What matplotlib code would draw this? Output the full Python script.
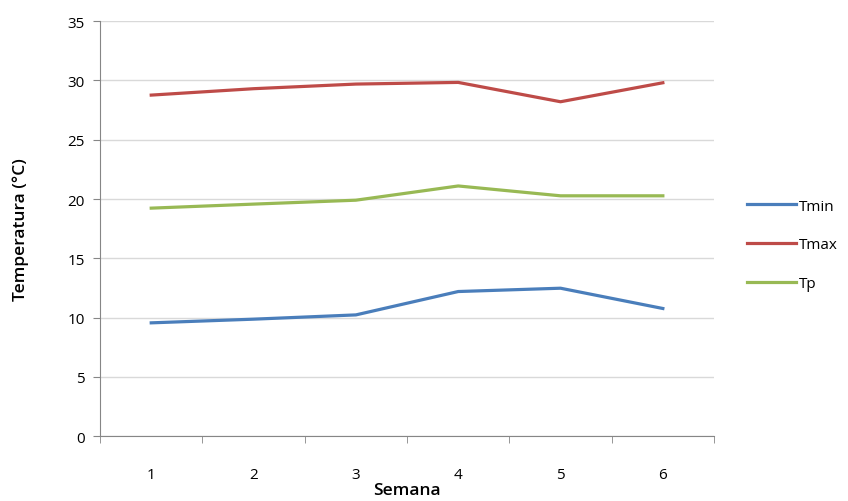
import numpy as np
from matplotlib import pyplot as plt

semanas = [1, 2, 3, 4, 5, 6]
tmin = [9.56, 9.87, 10.23, 12.2, 12.48, 10.77]
tmax = [28.76, 29.3, 29.69, 29.83, 28.2, 29.8]
tp = [19.23, 19.57, 19.9, 21.1, 20.27, 20.27]

plt.rcParams['font.family'] = ['Open Sans', 'DejaVu Sans']

fig = plt.figure(figsize=(8.48, 5.02), dpi=100)
ax = fig.add_axes([0.118, 0.129, 0.724, 0.827])

ax.plot(semanas, tmin, color='#4A7EBB', lw=2.3, label='Tmin')
ax.plot(semanas, tmax, color='#BE4B48', lw=2.3, label='Tmax')
ax.plot(semanas, tp, color='#98B954', lw=2.3, label='Tp')

ax.set_xlim(0.5, 6.5)
ax.set_ylim(0, 35)
ax.set_yticks(np.arange(0, 36, 5))
ax.set_xticks(semanas)
ax.set_xticks(np.arange(0.5, 6.6, 1), minor=True)
ax.tick_params(axis='x', which='major', length=0, pad=22, labelsize=11)
ax.tick_params(axis='x', which='minor', length=5, color='#868686', direction='out')
ax.tick_params(axis='y', length=5, color='#868686', labelsize=11, pad=6)
ax.grid(axis='y', color='#D9D9D9', lw=1)
ax.set_axisbelow(True)
for s in ['top', 'right']:
    ax.spines[s].set_visible(False)
for s in ['left', 'bottom']:
    ax.spines[s].set_color('#868686')

ax.set_xlabel('Semana', fontsize=12.5, fontweight='semibold', labelpad=0)
ax.set_ylabel('Temperatura (°C)', fontsize=12.5, fontweight='semibold', labelpad=28)

fig.legend(loc='center left', bbox_to_anchor=(0.865, 0.51), frameon=False,
           fontsize=11, labelspacing=1.55, handlelength=3.2, handletextpad=0.2)

fig.savefig('out.png', dpi=100)
